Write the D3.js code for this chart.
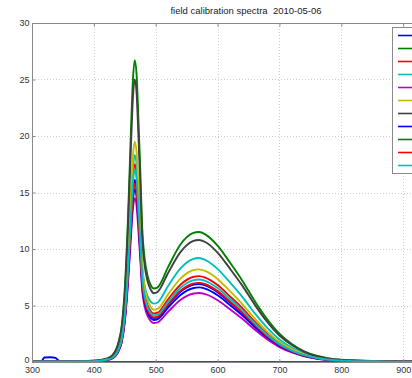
<!DOCTYPE html>
<html>
<head>
<meta charset="utf-8">
<script src="https://cdn.jsdelivr.net/npm/d3@7"></script>
<style>
  body { margin: 0; background: #fff; }
  svg { display: block; }
  svg text { font-family: "Liberation Sans", Arial, sans-serif; }
  .tick text { fill: #333; font-size: 9px; }
</style>
</head>
<body>
<div id="chart"></div>
<script>
// wavelength grid (nm)
const wavelengths = [300, 315, 320, 330, 338, 345, 360, 400, 420, 430, 440, 445, 450, 455, 460, 463, 466, 469, 472, 475, 478, 482, 487, 492, 497, 503, 520, 540, 560, 570, 580, 600, 620, 640, 660, 680, 700, 720, 740, 760, 780, 800, 850, 900, 950];

const uv = [0.05, 0.05, 0.05, 0.05, 0.05, 0.05, 0.05];

const s1 = [0.05, 0.05, 0.4, 0.42, 0.36, 0.05, 0.04, 0.07, 0.18, 0.37, 1.08, 1.93, 3.92, 7.53, 12.36, 14.96, 16.1, 15.37, 12.96, 10.24, 7.22, 5.53, 4.56, 4.09, 3.9, 3.96, 5.04, 6.21, 6.83, 6.9, 6.78, 6.18, 5.28, 4.32, 3.24, 2.28, 1.5, 0.96, 0.57, 0.33, 0.19, 0.12, 0.06, 0.03, 0.02];
const s2 = uv.concat([0.12, 0.3, 0.6, 1.8, 3.2, 6.5, 12.5, 20.5, 24.8, 26.7, 25.5, 21.5, 17.0, 12.0, 9.2, 7.6, 6.8, 6.5, 6.6, 8.4, 10.4, 11.4, 11.5, 11.3, 10.3, 8.8, 7.2, 5.4, 3.8, 2.5, 1.6, 0.95, 0.55, 0.32, 0.2, 0.1, 0.05, 0.05]);
const s3 = uv.concat([0.08, 0.2, 0.39, 1.18, 2.11, 4.26, 8.2, 13.43, 16.25, 17.5, 16.71, 14.1, 11.16, 7.87, 6.05, 5.01, 4.49, 4.29, 4.36, 5.55, 6.84, 7.52, 7.6, 7.47, 6.81, 5.81, 4.76, 3.57, 2.51, 1.65, 1.06, 0.63, 0.36, 0.21, 0.13, 0.06, 0.03, 0.02]);
const s4 = uv.concat([0.09, 0.23, 0.46, 1.33, 2.31, 4.56, 8.65, 14.06, 17.0, 18.3, 17.54, 14.91, 11.93, 8.62, 6.81, 5.81, 5.33, 5.17, 5.27, 6.72, 8.28, 9.11, 9.2, 9.04, 8.24, 7.04, 5.76, 4.32, 3.04, 2.0, 1.28, 0.76, 0.44, 0.26, 0.16, 0.07, 0.04, 0.03]);
const s5 = uv.concat([0.06, 0.16, 0.32, 0.97, 1.72, 3.51, 6.78, 11.12, 13.47, 14.5, 13.83, 11.65, 9.2, 6.47, 4.93, 4.06, 3.62, 3.45, 3.51, 4.45, 5.49, 6.04, 6.1, 6.0, 5.47, 4.67, 3.82, 2.87, 2.01, 1.32, 0.85, 0.51, 0.29, 0.17, 0.1, 0.05, 0.02, 0.02]);
const s6 = uv.concat([0.08, 0.2, 0.43, 1.3, 2.32, 4.73, 9.12, 14.96, 18.11, 19.5, 18.61, 15.68, 12.37, 8.7, 6.64, 5.46, 4.87, 4.63, 4.7, 5.99, 7.38, 8.12, 8.2, 8.06, 7.35, 6.27, 5.13, 3.85, 2.71, 1.78, 1.14, 0.68, 0.39, 0.23, 0.14, 0.07, 0.04, 0.03]);
const s7 = uv.concat([0.11, 0.25, 0.56, 1.68, 3.0, 6.08, 11.7, 19.18, 23.21, 25.0, 23.86, 20.12, 15.92, 11.23, 8.61, 7.12, 6.39, 6.09, 6.2, 7.88, 9.72, 10.69, 10.8, 10.62, 9.68, 8.26, 6.76, 5.08, 3.56, 2.34, 1.5, 0.9, 0.52, 0.3, 0.18, 0.09, 0.05, 0.04]);
const s8 = uv.concat([0.07, 0.17, 0.34, 1.03, 1.84, 3.72, 7.17, 11.74, 14.21, 15.3, 14.61, 12.32, 9.75, 6.87, 5.27, 4.36, 3.9, 3.72, 3.79, 4.82, 5.94, 6.53, 6.6, 6.49, 5.91, 5.05, 4.13, 3.1, 2.18, 1.43, 0.92, 0.55, 0.32, 0.18, 0.11, 0.05, 0.03, 0.02]);
const s9 = wavelengths.map(() => 0);
const s10 = uv.concat([0.07, 0.18, 0.36, 1.07, 1.91, 3.86, 7.41, 12.13, 14.67, 15.8, 15.09, 12.74, 10.1, 7.15, 5.51, 4.58, 4.13, 3.95, 4.02, 5.11, 6.3, 6.93, 7.0, 6.88, 6.27, 5.36, 4.38, 3.29, 2.31, 1.52, 0.97, 0.58, 0.34, 0.2, 0.12, 0.06, 0.03, 0.02]);
const s11 = uv.concat([0.07, 0.2, 0.38, 1.14, 2.03, 4.13, 7.95, 13.05, 15.79, 17.0, 16.23, 13.68, 10.82, 7.63, 5.85, 4.82, 4.33, 4.13, 4.19, 5.33, 6.57, 7.23, 7.3, 7.18, 6.54, 5.58, 4.57, 3.43, 2.41, 1.58, 1.01, 0.61, 0.35, 0.2, 0.12, 0.06, 0.03, 0.02]);

const seriesValues = [s1, s2, s3, s4, s5, s6, s7, s8, s9, s10, s11];
const seriesColors = ['#0000ff', '#008000', '#ff0000', '#00bfbf', '#bf00bf', '#bfbf00', '#404040', '#0000ff', '#008000', '#ff0000', '#00bfbf'];

const xTicks = [300, 400, 500, 600, 700, 800, 900];
const yTicks = [0, 5, 10, 15, 20, 25, 30];
const title = 'field calibration spectra  2010-05-06';

const W = 412, H = 378;
const plot = { left: 32, top: 23, right: 465, bottom: 362 };

const svg = d3.select('#chart').append('svg')
  .attr('width', W)
  .attr('height', H);

const x = d3.scaleLinear().domain([300, 1000]).range([plot.left, plot.right]);
const y = d3.scaleLinear().domain([0, 30]).range([plot.bottom, plot.top]);

svg.append('defs').append('clipPath').attr('id', 'clip')
  .append('rect')
    .attr('x', plot.left)
    .attr('y', plot.top - 1)
    .attr('width', plot.right - plot.left)
    .attr('height', plot.bottom - plot.top + 1);

// grid
const grid = svg.append('g').attr('stroke', '#cfcfcf').attr('stroke-dasharray', '1,2');
grid.selectAll('line.gx')
  .data(xTicks.filter(d => d > 300))
  .enter().append('line')
    .attr('x1', d => Math.round(x(d)) + 0.5)
    .attr('x2', d => Math.round(x(d)) + 0.5)
    .attr('y1', plot.top)
    .attr('y2', plot.bottom);
grid.selectAll('line.gy')
  .data(yTicks.filter(d => d > 0 && d < 30))
  .enter().append('line')
    .attr('x1', plot.left)
    .attr('x2', plot.right)
    .attr('y1', d => Math.round(y(d)) + 0.5)
    .attr('y2', d => Math.round(y(d)) + 0.5);

// curves
const line = d3.line()
  .x(d => x(d[0]))
  .y(d => y(d[1]))
  .curve(d3.curveMonotoneX);

svg.append('g').attr('clip-path', 'url(#clip)')
  .selectAll('path')
  .data(seriesValues)
  .enter().append('path')
    .attr('d', vals => line(vals.map((v, i) => [wavelengths[i], v])))
    .attr('fill', 'none')
    .attr('stroke', (d, i) => seriesColors[i])
    .attr('stroke-width', 1.9)
    .attr('stroke-linejoin', 'round');

// frame
svg.append('rect')
  .attr('x', plot.left + 0.5)
  .attr('y', plot.top + 0.5)
  .attr('width', plot.right - plot.left)
  .attr('height', plot.bottom - plot.top)
  .attr('fill', 'none')
  .attr('stroke', '#8a8a8a');

// axes
const xAxis = svg.append('g')
  .attr('transform', `translate(0,${plot.bottom + 0.5})`)
  .call(d3.axisBottom(x).tickValues(xTicks).tickSize(-3).tickPadding(3));
const yAxis = svg.append('g')
  .attr('transform', `translate(${plot.left + 0.5},0)`)
  .call(d3.axisLeft(y).tickValues(yTicks).tickSize(-3).tickPadding(3));
const xTop = svg.append('g')
  .attr('transform', `translate(0,${plot.top + 0.5})`)
  .call(d3.axisTop(x).tickValues(xTicks).tickSize(-3).tickFormat(''));
[xAxis, yAxis, xTop].forEach(g => {
  g.attr('font-family', null);
  g.select('.domain').remove();
  g.selectAll('.tick line').attr('stroke', '#8a8a8a');
});
xAxis.selectAll('.tick text').attr('dy', '0.85em');
yAxis.selectAll('.tick text').filter(d => d === 0).attr('dy', '0.05em');

// legend box (cut off at the right edge)
const legend = svg.append('g');
legend.append('rect')
  .attr('x', 392.5)
  .attr('y', 27.5)
  .attr('width', 70)
  .attr('height', 146)
  .attr('fill', '#fff')
  .attr('stroke', '#8a8a8a');
legend.selectAll('line')
  .data(seriesColors)
  .enter().append('line')
    .attr('x1', 398)
    .attr('x2', 424)
    .attr('y1', (d, i) => 35.5 + i * 13)
    .attr('y2', (d, i) => 35.5 + i * 13)
    .attr('stroke', d => d)
    .attr('stroke-width', 1.6);

// title
svg.append('text')
  .attr('x', 246)
  .attr('y', 14)
  .attr('text-anchor', 'middle')
  .attr('font-size', 9.5)
  .attr('fill', '#222')
  .style('white-space', 'pre')
  .text(title);
</script>
</body>
</html>
